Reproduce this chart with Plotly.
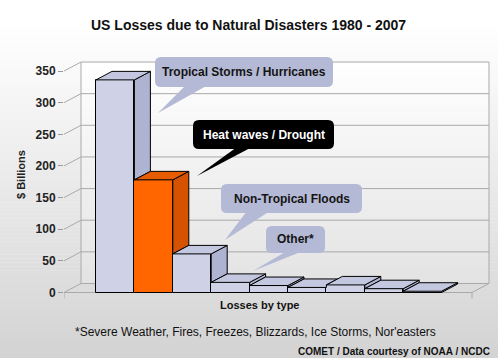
import numpy as np
import plotly.graph_objects as go

# ---------------- data ----------------
categories = ["Tropical Storms / Hurricanes", "Heat waves / Drought", "Non-Tropical Floods",
              "Severe Weather", "Fires", "Freezes", "Blizzards", "Ice Storms", "Nor'easters"]
losses = [336, 178, 61, 16, 11, 8, 12, 6, 2]          # $ billions
y_ticks = [0, 50, 100, 150, 200, 250, 300, 350]

title_text = "US Losses due to Natural Disasters 1980 - 2007"
y_title = "$ Billions"
x_title = "Losses by type"
callout_texts = ["Tropical Storms / Hurricanes", "Heat waves / Drought", "Non-Tropical Floods", "Other*"]
footnote = "*Severe Weather, Fires, Freezes, Blizzards, Ice Storms, Nor'easters"
credit = "COMET / Data courtesy of NOAA / NCDC"

# ---------------- styles / geometry ----------------
W, H = 498, 358
FONT = "Liberation Sans, Arial, Helvetica, sans-serif"
X_AXIS_PX = 64      # front-left corner of plot (pixels)
X_END_PX = 472      # front-right corner
CAT_W = 38.4        # pixels per category
CAT0_PX = 96        # left edge of first bar
Y0_PX = 292.5       # pixel row of value 0
Y_SCALE = 0.6328    # pixels per unit

x_lo = (X_AXIS_PX - CAT0_PX) / CAT_W - 0.5
x_hi = (W - CAT0_PX) / CAT_W - 0.5
x_front_end = (X_END_PX - CAT0_PX) / CAT_W - 0.5
y_lo = (Y0_PX - H) / Y_SCALE
y_hi = Y0_PX / Y_SCALE

wdx, wdy = 17 / CAT_W, 9 / Y_SCALE       # wall depth
bdx, bdy = 16 / CAT_W, 8.5 / Y_SCALE     # bar depth

LAV = dict(front="#cfd2e7", top="#c3c7df", side="#aeb3d1")
ORG = dict(front="#ff6600", top="#e65c00", side="#d45200")
bar_styles = [LAV, ORG] + [LAV] * 7
GRID = "#a9a9a9"


def pxp(x):
    return x / W


def pyp(y):
    return 1 - y / H


def gray(v):
    v = int(round(v))
    return f"rgb({v},{v},{v})"


shapes = []
# figure background gradient
n = 90
for k in range(n):
    y0, y1 = k * H / n, (k + 1) * H / n
    ym = (y0 + y1) / 2
    t = max(0.0, (ym - 25) / (H - 25))
    shapes.append(dict(type="rect", xref="paper", yref="paper", layer="below",
                       x0=0, x1=1, y0=pyp(y1), y1=pyp(y0) + 0.001,
                       fillcolor=gray(255 - 44 * t), line_width=0))

# back wall gradient
wall_x0, wall_x1 = x_lo + wdx, x_front_end + wdx
wall_y0, wall_y1 = wdy, y_ticks[-1] + wdy
m = 50
for k in range(m):
    a0 = wall_y0 + (wall_y1 - wall_y0) * k / m
    a1 = wall_y0 + (wall_y1 - wall_y0) * (k + 1) / m
    t = 1 - (k + 0.5) / m
    shapes.append(dict(type="rect", xref="x", yref="y", layer="below",
                       x0=wall_x0, x1=wall_x1, y0=a0, y1=a1 + 0.5,
                       fillcolor=gray(255 - 28 * t), line_width=0))

# floor
shapes.append(dict(type="path", xref="x", yref="y", layer="below",
                   path=f"M {x_lo},0 L {x_front_end},0 L {wall_x1},{wdy} L {wall_x0},{wdy} Z",
                   fillcolor="#dcdcdc", line_width=0))


def seg(xa, ya, xb, yb, color=GRID, width=1):
    shapes.append(dict(type="line", xref="x", yref="y", layer="below",
                       x0=xa, y0=ya, x1=xb, y1=yb, line=dict(color=color, width=width)))


for v in y_ticks:
    seg(x_lo, v, wall_x0, v + wdy)
    seg(wall_x0, v + wdy, wall_x1, v + wdy)
seg(wall_x0, wdy, wall_x0, wall_y1)
seg(wall_x1, wdy, wall_x1, wall_y1)
seg(x_lo, 0, x_front_end, 0)
seg(x_front_end, 0, wall_x1, wdy)
tick_len = 6 / Y_SCALE
seg(x_lo, 0, x_lo, -tick_len)
seg(x_front_end, 0, x_front_end, -tick_len)

# ---------------- traces ----------------
fig = go.Figure()
fig.add_trace(go.Bar(
    x=list(range(len(losses))), y=losses, width=1,
    marker=dict(color=[s["front"] for s in bar_styles], line=dict(color="black", width=1)),
    hovertext=categories, hoverinfo="text+y", showlegend=False))

for i, h in enumerate(losses):
    st = bar_styles[i]
    xl, xr = i - 0.5, i + 0.5
    hn = losses[i + 1] if i + 1 < len(losses) else 0
    # visible part of right side face
    if hn < h:
        sx = [xr, xr + bdx, xr + bdx, xr, xr]
        sy = [hn, hn + bdy, h + bdy, h, hn]
        fig.add_trace(go.Scatter(x=sx, y=sy, mode="lines", fill="toself", fillcolor=st["side"],
                                 line=dict(color="black", width=1), hoverinfo="skip", showlegend=False))
    # visible part of top face
    if hn <= h:
        tx = [xl, xr, xr + bdx, xl + bdx, xl]
        ty = [h, h, h + bdy, h + bdy, h]
    else:
        tx = [xl, xr, xr]
        ty = [h, h, min(hn, h + bdy)]
        if hn < h + bdy:
            tx.append(xr + (h + bdy - hn) * bdx / bdy)
            ty.append(h + bdy)
        tx += [xl + bdx, xl]
        ty += [h + bdy, h]
    fig.add_trace(go.Scatter(x=tx, y=ty, mode="lines", fill="toself", fillcolor=st["top"],
                             line=dict(color="black", width=1), hoverinfo="skip", showlegend=False))

# ---------------- callouts ----------------
callouts = [
    dict(box=(155, 57, 333, 87), tail=(186, 208, 158, 113), fill="#b4b9d6", color="#141414"),
    dict(box=(193, 120, 334, 149), tail=(237, 252, 197, 176), fill="#000000", color="#ffffff"),
    dict(box=(221, 184, 362, 213), tail=(247, 270, 225, 240), fill="#b4b9d6", color="#141414"),
    dict(box=(266, 226, 325, 253), tail=(287, 303, 253, 271), fill="#b4b9d6", color="#141414"),
]


def rrect_path(x0, y0, x1, y1, r):
    P = lambda x, y: f"{pxp(x):.5f},{pyp(y):.5f}"
    return (f"M {P(x0 + r, y0)} L {P(x1 - r, y0)} Q {P(x1, y0)} {P(x1, y0 + r)} "
            f"L {P(x1, y1 - r)} Q {P(x1, y1)} {P(x1 - r, y1)} L {P(x0 + r, y1)} "
            f"Q {P(x0, y1)} {P(x0, y1 - r)} L {P(x0, y0 + r)} Q {P(x0, y0)} {P(x0 + r, y0)} Z")


annotations = []
for c, txt in zip(callouts, callout_texts):
    x0, y0, x1, y1 = c["box"]
    shapes.append(dict(type="path", xref="paper", yref="paper", layer="above",
                       path=rrect_path(x0, y0, x1, y1, 6), fillcolor=c["fill"], line_width=0))
    b0, b1, tx_, ty_ = c["tail"]
    shapes.append(dict(type="path", xref="paper", yref="paper", layer="above",
                       path=(f"M {pxp(b0):.5f},{pyp(y1 - 2):.5f} L {pxp(tx_):.5f},{pyp(ty_):.5f} "
                             f"L {pxp(b1):.5f},{pyp(y1 - 2):.5f} Z"),
                       fillcolor=c["fill"], line_width=0))
    annotations.append(dict(xref="paper", yref="paper", x=pxp((x0 + x1) / 2), y=pyp((y0 + y1) / 2),
                            text=txt, showarrow=False, xanchor="center", yanchor="middle",
                            font=dict(family=FONT, size=12, color=c["color"], weight="bold")))

annotations += [
    dict(xref="paper", yref="paper", x=pxp(248.5), y=pyp(25), text=title_text, showarrow=False,
         xanchor="center", yanchor="middle", font=dict(family=FONT, size=14, color="#111", weight="bold")),
    dict(xref="paper", yref="paper", x=pxp(21), y=pyp(175), text=y_title, showarrow=False, textangle=-90,
         xanchor="center", yanchor="middle", font=dict(family=FONT, size=11, color="#222", weight="bold")),
    dict(xref="paper", yref="paper", x=pxp(259), y=pyp(305), text=x_title, showarrow=False,
         xanchor="center", yanchor="middle", font=dict(family=FONT, size=11, color="#111", weight="bold")),
    dict(xref="paper", yref="paper", x=pxp(256), y=pyp(331.5), text=footnote, showarrow=False,
         xanchor="center", yanchor="middle", font=dict(family=FONT, size=12, color="#111")),
    dict(xref="paper", yref="paper", x=pxp(492), y=pyp(351), text=credit, showarrow=False,
         xanchor="right", yanchor="middle", font=dict(family=FONT, size=10, color="#111", weight="bold")),
]

fig.update_layout(
    width=W, height=H, autosize=False,
    margin=dict(l=0, r=0, t=0, b=0, pad=0),
    paper_bgcolor="white", plot_bgcolor="rgba(0,0,0,0)",
    showlegend=False, bargap=0,
    shapes=shapes, annotations=annotations,
    xaxis=dict(domain=[X_AXIS_PX / W, 1], range=[x_lo, x_hi], visible=False, fixedrange=True),
    yaxis=dict(domain=[0, 1], range=[y_lo, y_hi], tickvals=y_ticks, ticks="outside", ticklen=5,
               tickcolor="#999999", showline=False, showgrid=False, zeroline=False, fixedrange=True,
               tickfont=dict(family=FONT, size=12, color="#222", weight="bold")),
)

fig.write_html("out.html", config={"displayModeBar": False},
               post_script="document.body.style.margin='0';")
